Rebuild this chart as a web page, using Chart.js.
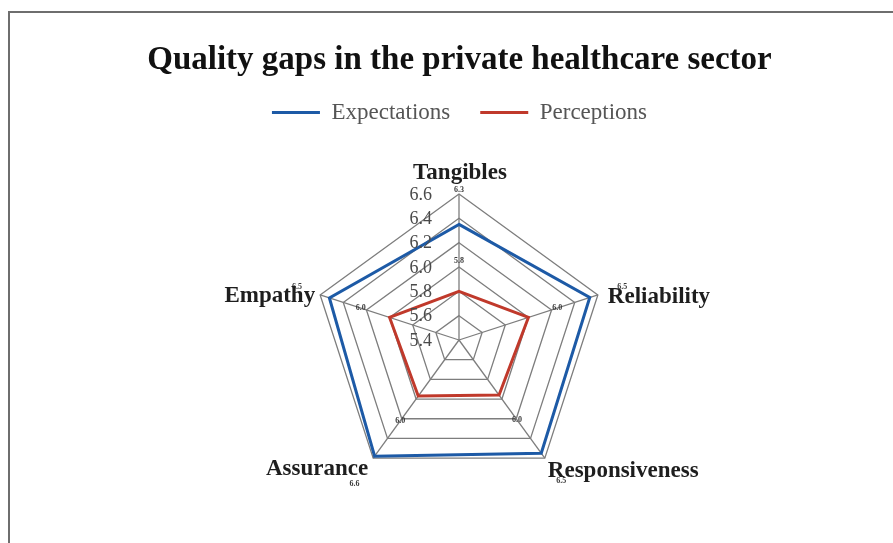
<!DOCTYPE html>
<html>
<head>
<meta charset="utf-8">
<script src="https://cdn.jsdelivr.net/npm/chart.js@4.4.1/dist/chart.umd.min.js"></script>
<style>
  html, body { margin: 0; padding: 0; background: #fff; }
  #wrap { position: relative; width: 893px; height: 543px; overflow: hidden; background: #fff; }
  #frame { position: absolute; left: 8px; top: 11px; width: 920px; height: 620px;
           border-left: 2px solid #6e6e6e; border-top: 2px solid #6e6e6e; }
  #c { position: absolute; left: 0; top: 0; }
</style>
</head>
<body>
<div id="wrap">
  <div id="frame"></div>
  <canvas id="c" width="893" height="543"></canvas>
</div>
<script>
// Service quality dimensions (SERVQUAL) and mean scores
const categories = ['Tangibles', 'Reliability', 'Responsiveness', 'Assurance', 'Empathy'];
const expectations = [6.35, 6.53, 6.55, 6.58, 6.52];
const perceptions = [5.80, 6.00, 5.96, 5.97, 6.00];

// Radial axis range and tick labels
const axisMin = 5.4;
const axisMax = 6.6;
const axisStep = 0.2;
const tickLabels = ['5.4', '5.6', '5.8', '6.0', '6.2', '6.4', '6.6'];

const SERIF = '"Liberation Serif", "Times New Roman", serif';

// Draws the value axis labels, the small value labels and the category names
const radarText = {
  id: 'radarText',
  afterDatasetsDraw(chart) {
    const s = chart.scales.r;
    const ctx = chart.ctx;
    ctx.save();

    // value axis labels, set to the left of the Tangibles spoke
    ctx.font = '18px ' + SERIF;
    ctx.fillStyle = '#4a4a4a';
    ctx.textAlign = 'right';
    ctx.textBaseline = 'middle';
    s.ticks.forEach((t, k) => {
      const d = s.getDistanceFromCenterForValue(t.value);
      ctx.fillText(tickLabels[k] ?? t.value.toFixed(1), s.xCenter - 27, s.yCenter - d + 1);
    });

    // small value labels just outside each series
    const shift = [0.28, 0.25];
    ctx.font = 'bold 8px ' + SERIF;
    ctx.fillStyle = '#3a3a3a';
    ctx.textAlign = 'center';
    chart.data.datasets.forEach((ds, k) => {
      ds.data.forEach((v, i) => {
        const p = s.getPointPositionForValue(i, v + shift[k]);
        ctx.fillText(v.toFixed(1), p.x, p.y);
      });
    });

    // category names around the outer ring
    const place = [
      { align: 'center', dx: 1,  dy: -15 },
      { align: 'left',   dx: 10, dy: 8 },
      { align: 'left',   dx: 3,  dy: 19 },
      { align: 'right',  dx: -5, dy: 17 },
      { align: 'right',  dx: -5, dy: 7 }
    ];
    ctx.font = 'bold 23px ' + SERIF;
    ctx.fillStyle = '#1e1e1e';
    ctx.textBaseline = 'alphabetic';
    chart.data.labels.forEach((lbl, i) => {
      const p = s.getPointPosition(i, s.drawingArea);
      ctx.textAlign = place[i].align;
      ctx.fillText(lbl, p.x + place[i].dx, p.y + place[i].dy);
    });
    ctx.restore();
  }
};

new Chart(document.getElementById('c'), {
  type: 'radar',
  data: {
    labels: categories,
    datasets: [
      {
        label: 'Expectations',
        data: expectations,
        borderColor: '#1d5aa6',
        backgroundColor: '#1d5aa6',
        borderWidth: 3,
        pointRadius: 0,
        fill: false,
        clip: false
      },
      {
        label: 'Perceptions',
        data: perceptions,
        borderColor: '#c0392b',
        backgroundColor: '#c0392b',
        borderWidth: 3,
        pointRadius: 0,
        fill: false,
        clip: false
      }
    ]
  },
  options: {
    responsive: false,
    animation: false,
    devicePixelRatio: 1,
    layout: { padding: { top: 0, left: 26, right: 0, bottom: 57 } },
    plugins: {
      title: {
        display: true,
        text: 'Quality gaps in the private healthcare sector',
        color: '#111',
        font: { family: SERIF, size: 33, weight: 'bold', lineHeight: 1 },
        padding: { top: 44, bottom: -6 }
      },
      legend: {
        display: true,
        position: 'top',
        labels: {
          color: '#555',
          font: { family: SERIF, size: 23 },
          boxWidth: 48,
          boxHeight: 3,
          padding: 30,
          generateLabels: (chart) =>
            Chart.defaults.plugins.legend.labels.generateLabels(chart)
              .map(l => Object.assign(l, { lineWidth: 0 }))
        }
      },
      subtitle: {
        display: true,
        text: ' ',
        weight: 500,
        font: { size: 10, lineHeight: 1 },
        padding: { top: 0, bottom: 50 }
      },
      tooltip: { enabled: false }
    },
    scales: {
      r: {
        min: axisMin,
        max: axisMax,
        beginAtZero: false,
        ticks: { stepSize: axisStep, display: false },
        grid: { color: '#7d7d7d', lineWidth: 1.3, circular: false },
        angleLines: { color: '#7d7d7d', lineWidth: 1.3 },
        pointLabels: { display: false }
      }
    }
  },
  plugins: [radarText]
});
</script>
</body>
</html>
